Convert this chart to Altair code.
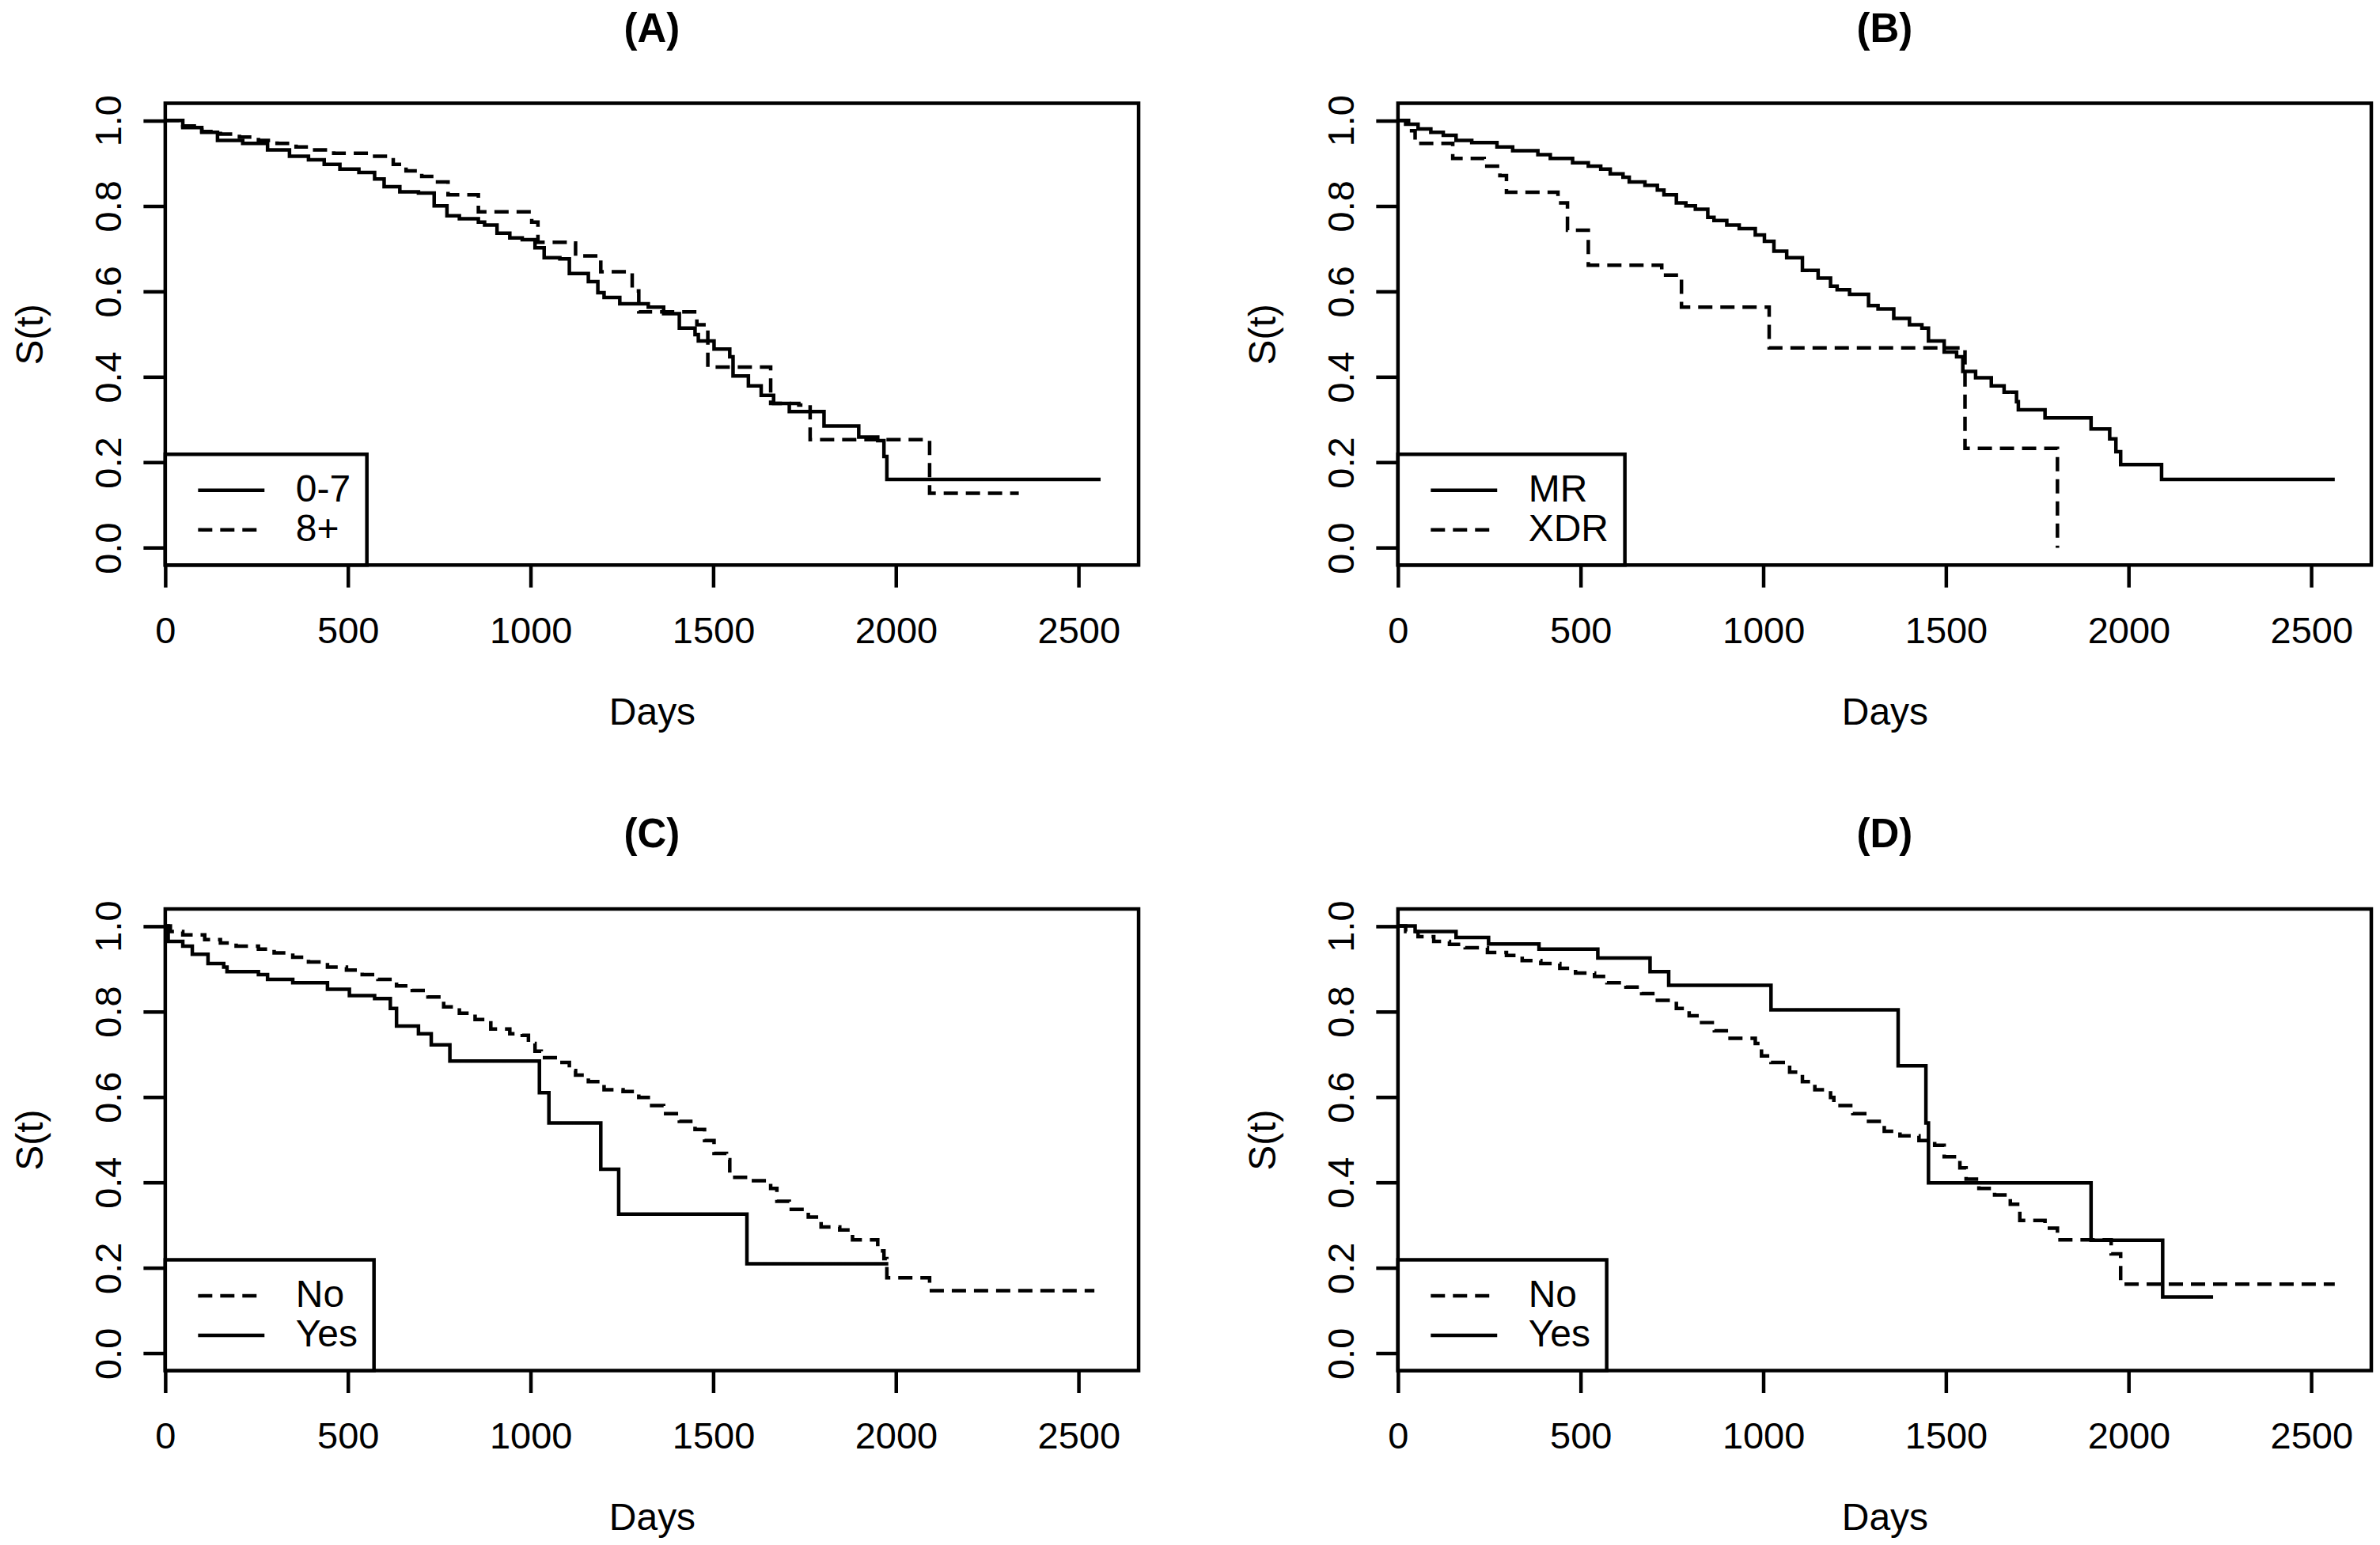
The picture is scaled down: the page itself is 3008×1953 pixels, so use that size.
import altair as alt
import pandas as pd

# ---------------- data ----------------
# Panel A
a_07_t = [0, 48, 100, 143, 212, 280, 340, 392, 435, 478, 530, 573, 599, 642, 693, 736, 771, 805, 857, 874,
          908, 943, 977, 1012, 1037, 1080, 1106, 1158, 1184, 1201, 1244, 1322, 1364, 1407, 1450, 1459, 1502,
          1545, 1554, 1596, 1631, 1665, 1708, 1803, 1898, 1950, 1967, 1975, 2560]
a_07_s = [1.0, 0.983, 0.972, 0.953, 0.946, 0.931, 0.916, 0.908, 0.897, 0.886, 0.878, 0.863, 0.845, 0.833,
          0.830, 0.800, 0.777, 0.770, 0.762, 0.755, 0.736, 0.725, 0.721, 0.702, 0.679, 0.676, 0.642, 0.623,
          0.597, 0.586, 0.571, 0.563, 0.548, 0.514, 0.499, 0.484, 0.465, 0.447, 0.402, 0.379, 0.357, 0.338,
          0.319, 0.285, 0.259, 0.251, 0.214, 0.160, 0.160]
a_8_t = [0, 48, 100, 151, 203, 255, 306, 358, 409, 461, 564, 624, 659, 702, 736, 774, 857, 1003, 1020, 1115,
         1123, 1192, 1278, 1296, 1455, 1485, 1657, 1734, 1765, 2092, 2336]
a_8_s = [1.0, 0.987, 0.974, 0.968, 0.961, 0.953, 0.946, 0.938, 0.931, 0.923, 0.916, 0.897, 0.882, 0.869,
         0.856, 0.826, 0.786, 0.762, 0.715, 0.713, 0.683, 0.646, 0.601, 0.552, 0.522, 0.423, 0.338, 0.334,
         0.253, 0.128, 0.128]

# Panel B
b_mr_t = [0, 21, 55, 90, 124, 159, 202, 271, 314, 383, 417, 478, 521, 555, 581, 616, 633, 676, 710, 728,
          762, 788, 814, 848, 865, 900, 934, 978, 1003, 1029, 1064, 1107, 1150, 1184, 1202, 1236, 1288, 1314,
          1357, 1400, 1434, 1452, 1495, 1529, 1546, 1581, 1624, 1659, 1693, 1698, 1771, 1897, 1948, 1965,
          1978, 2090, 2564]
b_mr_s = [1.0, 0.991, 0.980, 0.972, 0.965, 0.953, 0.948, 0.938, 0.929, 0.920, 0.911, 0.901, 0.893, 0.886,
          0.875, 0.867, 0.856, 0.848, 0.837, 0.826, 0.807, 0.800, 0.792, 0.773, 0.766, 0.755, 0.747, 0.732,
          0.717, 0.694, 0.679, 0.649, 0.631, 0.612, 0.604, 0.593, 0.567, 0.559, 0.537, 0.522, 0.514, 0.484,
          0.458, 0.447, 0.413, 0.398, 0.379, 0.364, 0.342, 0.323, 0.304, 0.278, 0.255, 0.225, 0.195, 0.160,
          0.160]
b_xdr_t = [0, 29, 47, 150, 236, 279, 297, 438, 464, 521, 722, 776, 1016, 1552, 1805]
b_xdr_s = [1.0, 0.976, 0.946, 0.911, 0.893, 0.871, 0.832, 0.807, 0.743, 0.661, 0.638, 0.563, 0.468, 0.233, 0.0]

# Panel C
c_no_t = [0, 14, 48, 108, 151, 194, 255, 298, 349, 392, 444, 496, 539, 582, 633, 676, 719, 762, 805, 848,
          891, 943, 977, 994, 1012, 1029, 1080, 1106, 1123, 1158, 1201, 1253, 1296, 1322, 1364, 1407, 1450,
          1476, 1502, 1536, 1545, 1605, 1657, 1674, 1708, 1760, 1795, 1846, 1881, 1950, 1967, 1975, 2092, 2543]
c_no_s = [1.0, 0.987, 0.979, 0.968, 0.960, 0.953, 0.946, 0.937, 0.927, 0.916, 0.904, 0.897, 0.886, 0.875,
          0.860, 0.849, 0.834, 0.811, 0.796, 0.781, 0.759, 0.748, 0.744, 0.725, 0.707, 0.692, 0.681, 0.662,
          0.651, 0.636, 0.617, 0.613, 0.599, 0.580, 0.561, 0.543, 0.524, 0.498, 0.468, 0.453, 0.412, 0.404,
          0.386, 0.356, 0.337, 0.319, 0.296, 0.289, 0.266, 0.240, 0.222, 0.177, 0.147, 0.147]
c_yes_t = [0, 8, 48, 74, 117, 160, 169, 255, 280, 349, 444, 504, 573, 616, 633, 693, 728, 779, 1024, 1050,
           1192, 1241, 1592, 1979]
c_yes_s = [1.0, 0.964, 0.953, 0.934, 0.912, 0.904, 0.893, 0.886, 0.875, 0.867, 0.852, 0.837, 0.830, 0.807,
           0.766, 0.748, 0.722, 0.684, 0.610, 0.539, 0.431, 0.326, 0.210, 0.210]

# Panel D
d_no_t = [0, 21, 55, 98, 141, 184, 245, 297, 340, 391, 443, 486, 538, 572, 624, 667, 710, 762, 797, 831,
          866, 909, 978, 995, 1021, 1072, 1107, 1141, 1184, 1193, 1245, 1288, 1331, 1374, 1426, 1469, 1495,
          1538, 1555, 1590, 1633, 1676, 1702, 1771, 1805, 1952, 1978, 2564]
d_no_s = [1.0, 0.987, 0.975, 0.964, 0.957, 0.949, 0.938, 0.931, 0.919, 0.912, 0.901, 0.890, 0.882, 0.867,
          0.857, 0.842, 0.826, 0.807, 0.790, 0.774, 0.755, 0.737, 0.725, 0.696, 0.681, 0.658, 0.636, 0.617,
          0.599, 0.580, 0.561, 0.543, 0.520, 0.509, 0.498, 0.487, 0.460, 0.434, 0.408, 0.386, 0.371, 0.349,
          0.311, 0.293, 0.266, 0.233, 0.162, 0.162]
d_yes_t = [0, 47, 159, 248, 386, 547, 690, 741, 1021, 1369, 1445, 1452, 1897, 2093, 2231]
d_yes_s = [1.0, 0.987, 0.973, 0.958, 0.946, 0.925, 0.893, 0.861, 0.804, 0.673, 0.539, 0.399, 0.265, 0.132, 0.132]

titles = ["(A)", "(B)", "(C)", "(D)"]
x_ticks = [0, 500, 1000, 1500, 2000, 2500]
y_ticks = [0.0, 0.2, 0.4, 0.6, 0.8, 1.0]

SOLID = [1, 0]
DASH = [18, 10]
FONT = "Liberation Sans"
LW = 4.5
LEGEND_LINE = "M-1.826,0H1.826"   # a long horizontal stroke as the legend key


def series_df(pairs):
    rows = []
    for name, ts, ss in pairs:
        for i, (t, s) in enumerate(zip(ts, ss)):
            rows.append({"t": t, "s": s, "grp": name, "i": i})
    return pd.DataFrame(rows)


def panel(title, pairs, dashes):
    df = series_df(pairs)
    names = [p[0] for p in pairs]
    return alt.Chart(df).mark_line(
        interpolate="step-after", color="black", strokeWidth=LW, strokeCap="butt"
    ).encode(
        x=alt.X("t:Q",
                scale=alt.Scale(domain=[0, 2664], nice=False, zero=False),
                axis=alt.Axis(values=x_ticks, format="d", title="Days", labelAlign="center",
                              labelBaseline="alphabetic", labelPadding=70,
                              titleY=201, titleBaseline="alphabetic")),
        y=alt.Y("s:Q",
                scale=alt.Scale(domain=[-0.04, 1.04], nice=False, zero=False),
                axis=alt.Axis(values=y_ticks, format=".1f", title="S(t)",
                              labelAngle=270, labelAlign="center",
                              labelBaseline="alphabetic", labelPadding=28,
                              titleX=-155, titleBaseline="alphabetic", titleAngle=270)),
        strokeDash=alt.StrokeDash(
            "grp:N",
            scale=alt.Scale(domain=names, range=dashes),
            legend=alt.Legend(title=None, orient="bottom-left", offset=0,
                              symbolType=LEGEND_LINE, symbolSize=2116,
                              symbolStrokeWidth=LW, symbolStrokeColor="black",
                              symbolFillColor="transparent",
                              symbolOffset=38, labelOffset=56, rowPadding=0,
                              padding=20, labelFontSize=48, labelFont=FONT,
                              strokeColor="black", fillColor="white")),
        order=alt.Order("i:Q"),
        detail="grp:N",
    ).properties(
        width=1231, height=584,
        title=alt.TitleParams(text=title, fontSize=51, fontWeight="bold", font=FONT,
                              baseline="alphabetic", offset=16, frame="group",
                              anchor="middle"),
    )


pA = panel(titles[0], [("0-7", a_07_t, a_07_s), ("8+", a_8_t, a_8_s)], [SOLID, DASH])
pB = panel(titles[1], [("MR", b_mr_t, b_mr_s), ("XDR", b_xdr_t, b_xdr_s)], [SOLID, DASH])
pC = panel(titles[2], [("No", c_no_t, c_no_s), ("Yes", c_yes_t, c_yes_s)], [DASH, SOLID])
pD = panel(titles[3], [("No", d_no_t, d_no_s), ("Yes", d_yes_t, d_yes_s)], [DASH, SOLID])

chart = alt.ConcatChart(
    concat=[pA, pB, pC, pD], columns=2,
    spacing={"row": 435, "column": 328}, bounds="flush",
).resolve_scale(strokeDash="independent").resolve_legend(strokeDash="independent").properties(
    padding={"left": 5, "top": 0, "right": 0, "bottom": 0}, background="white"
).configure(font=FONT).configure_view(
    stroke="black", strokeWidth=LW
).configure_axis(
    grid=False, domain=False, ticks=True, tickSize=28, tickWidth=LW, tickColor="black",
    labelFontSize=47, labelFont=FONT, labelColor="black",
    titleFontSize=48, titleFont=FONT, titleFontWeight="normal", titleColor="black",
    labelOverlap=False, labelFlush=False,
).configure_legend(strokeWidth=LW)

chart.save("out.html", embed_options={"renderer": "svg", "actions": False})
